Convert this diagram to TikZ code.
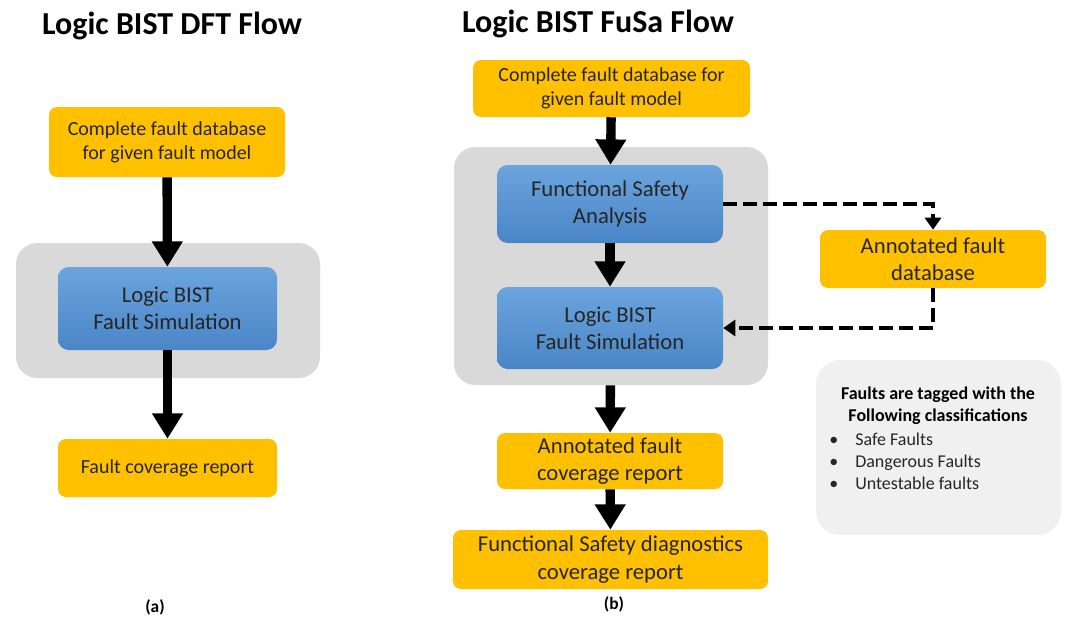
\documentclass[tikz,border=0pt]{standalone}
\usepackage{fontspec}
\setmainfont{Carlito}
\usetikzlibrary{arrows.meta, positioning}

\definecolor{boxyellow}{HTML}{FFC000}
\definecolor{bluetop}{HTML}{6BA5DE}
\definecolor{bluebottom}{HTML}{4A85C6}
\definecolor{graybg}{HTML}{D9D9D9}
\definecolor{legendbg}{HTML}{F0F0F0}
\definecolor{textdark}{HTML}{262626}

\begin{document}
\begin{tikzpicture}[x=0.75pt, y=-0.75pt,
	yellowbox/.style={fill=boxyellow, rounded corners=6pt, align=center, text=textdark, inner sep=0pt},
	bluebox/.style={top color=bluetop, bottom color=bluebottom, rounded corners=8pt, align=center, text=textdark, inner sep=0pt},
	graybox/.style={fill=graybg, rounded corners=16pt, inner sep=0pt},
	bigarrow/.style={line width=7pt, -{Triangle[width=22pt,length=19pt]}},
	dasharrow/.style={line width=3pt, dash pattern=on 10pt off 5pt, -{Triangle[width=12pt,length=9pt]}},
	small/.style={font=\fontsize{15}{18}\selectfont},
	large/.style={font=\fontsize{17}{20.5}\selectfont}]
	\useasboundingbox (0,0) rectangle (1080,619);

	% left flow
	\node[font=\fontsize{24}{28}\selectfont\bfseries] (titleA) at (172,26) {Logic BIST DFT Flow};
	\node[graybox, minimum width=228pt, minimum height=101.25pt] (grayA) at (168,310.5) {};
	\node[yellowbox, small, minimum width=177pt, minimum height=52.5pt] (dbA) at (167,142) {Complete fault database\\for given fault model};
	\node[bluebox, large, minimum width=164.25pt, minimum height=62.25pt] (simA) at (167.5,308.5) {Logic BIST\\Fault Simulation};
	\node[yellowbox, small, minimum width=164.25pt, minimum height=43.5pt] (reportA) at (167.5,468) {Fault coverage report};
	\node[font=\fontsize{13}{15}\selectfont\bfseries] (capA) at (155,607) {(a)};

	\draw[bigarrow] (dbA) -- (simA);
	\draw[bigarrow] (simA) -- (reportA);

	% right flow
	\node[font=\fontsize{24}{28}\selectfont\bfseries] (titleB) at (598,24) {Logic BIST FuSa Flow};
	\node[graybox, minimum width=235.5pt, minimum height=178.5pt] (grayB) at (611,266) {};
	\node[yellowbox, small, minimum width=207.75pt, minimum height=42.75pt] (dbB) at (611.5,88.5) {Complete fault database for\\given fault model};
	\node[bluebox, large, minimum width=169.5pt, minimum height=58.5pt] (fsa) at (610,204) {Functional Safety\\Analysis};
	\node[bluebox, large, minimum width=169.5pt, minimum height=61.5pt] (simB) at (610,328) {Logic BIST\\Fault Simulation};
	\node[yellowbox, large, minimum width=169.5pt, minimum height=43.5pt] (annDb) at (933,259) {Annotated fault\\database};
	\node[yellowbox, large, minimum width=169.5pt, minimum height=42pt] (annCov) at (610,461) {Annotated fault\\coverage report};
	\node[yellowbox, large, minimum width=236.25pt, minimum height=44.25pt] (fusaCov) at (610.5,559.5) {Functional Safety diagnostics\\coverage report};
	\node[font=\fontsize{13}{15}\selectfont\bfseries] (capB) at (614,604) {(b)};

	% classification note
	\node[fill=legendbg, rounded corners=18pt, minimum width=183.75pt, minimum height=131.25pt] (legend) at (938.5,447.5) {};
	\node[font=\fontsize{13.5}{16.5}\selectfont\bfseries, align=center, inner sep=0pt] (legendTitle) at (938,406) {Faults are tagged with the\\Following classifications};
	\node[font=\fontsize{13.5}{16.5}\selectfont, align=left, anchor=west, inner sep=0pt, text=textdark] (legendList) at (829,461)
		{\makebox[19.5pt][l]{\textbullet}Safe Faults\\\makebox[19.5pt][l]{\textbullet}Dangerous Faults\\\makebox[19.5pt][l]{\textbullet}Untestable faults};

	\draw[bigarrow] (dbB) -- (fsa);
	\draw[bigarrow] (fsa) -- (simB);
	\draw[bigarrow] (grayB) -- (annCov);
	\draw[bigarrow] (annCov) -- (fusaCov);
	\draw[dasharrow] (fsa.east) -| (annDb.north);
	\draw[dasharrow] (annDb.south) |- (simB.east);
\end{tikzpicture}
\end{document}
